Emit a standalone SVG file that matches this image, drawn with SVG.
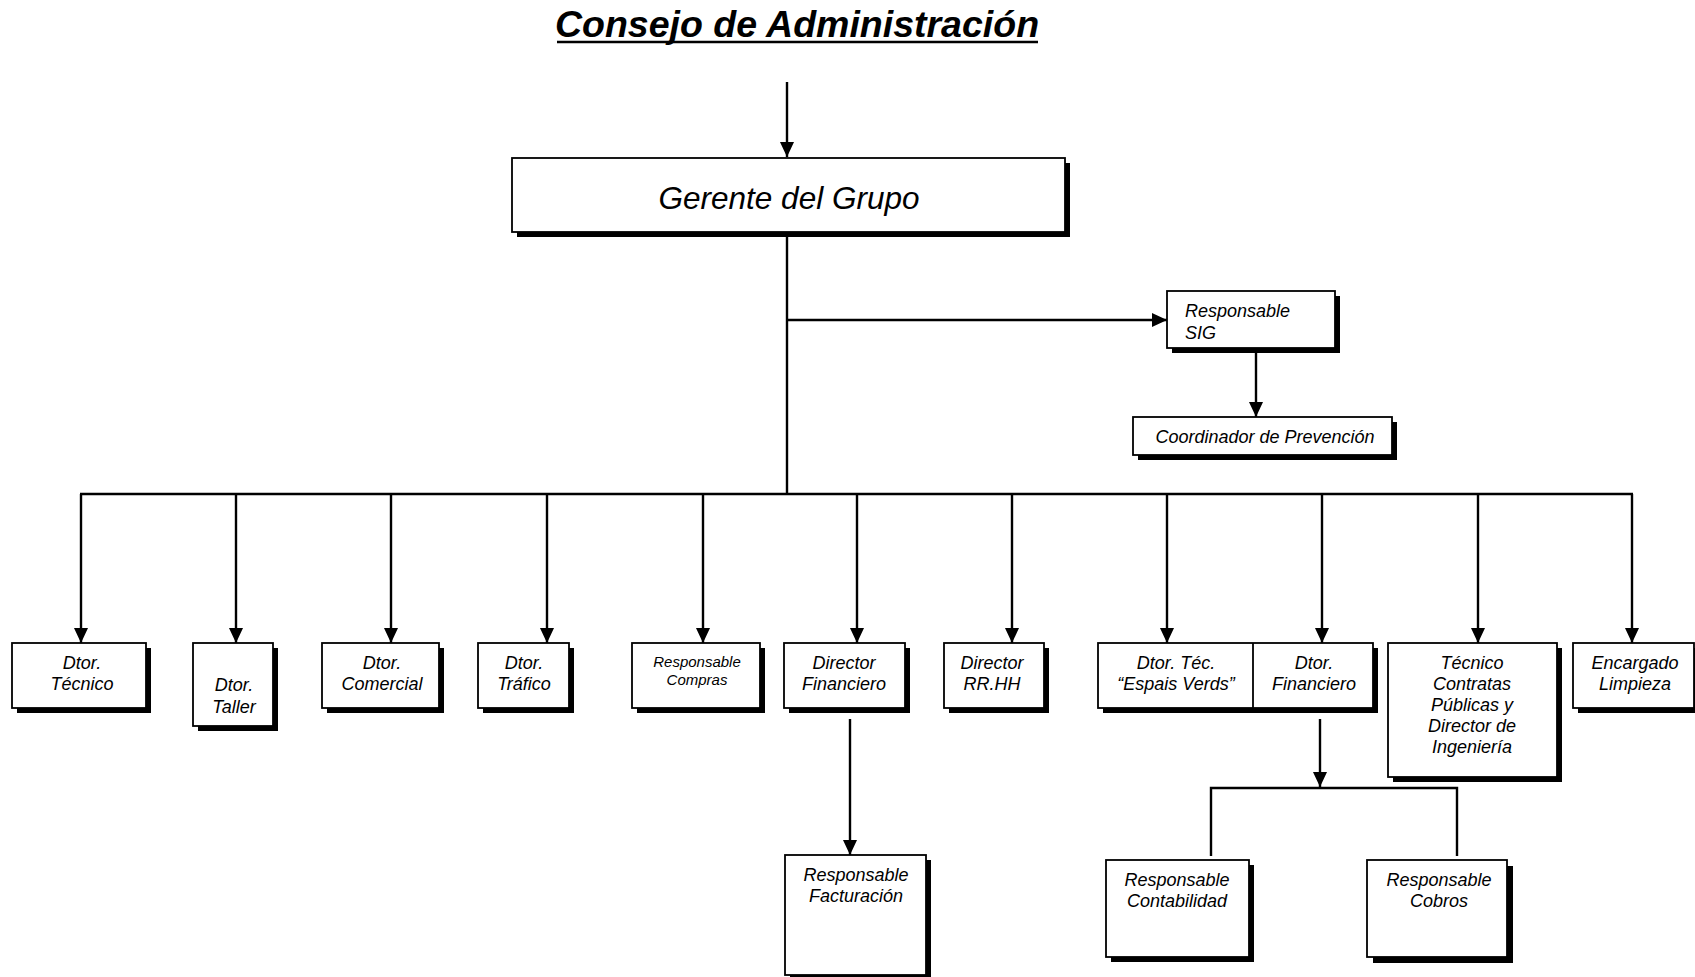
<svg xmlns="http://www.w3.org/2000/svg" width="1695" height="977" viewBox="0 0 1695 977">
<style>
.sh{fill:#000}
.bx{fill:#fff;stroke:#000;stroke-width:1.8}
.t{font-family:"Liberation Sans",Arial,sans-serif;font-style:italic;font-size:18px;fill:#000;text-anchor:middle}
.s{font-size:15px}
.c{fill:none;stroke:#000;stroke-width:2.4}
.title{font-family:"Liberation Sans",Arial,sans-serif;font-style:italic;font-weight:bold;font-size:37.5px;fill:#000;text-anchor:middle}
</style>
<defs>
<marker id="ah" markerUnits="userSpaceOnUse" markerWidth="14" markerHeight="14" refX="15" refY="7" orient="auto">
<path d="M0,0 L15,7 L0,14 z" fill="#000"/>
</marker>
</defs>
<rect width="1695" height="977" fill="#fff"/>
<g id="title">
<text class="title" x="797" y="37">Consejo de Administración</text>
<line x1="557" y1="42" x2="1038" y2="42" stroke="#000" stroke-width="2.5"/>
</g>
<g id="connectors">
<line class="c" x1="787" y1="82" x2="787" y2="157" marker-end="url(#ah)"/>
<line class="c" x1="787" y1="232" x2="787" y2="494"/>
<line class="c" x1="787" y1="320" x2="1167" y2="320" marker-end="url(#ah)"/>
<line class="c" x1="1256" y1="348" x2="1256" y2="417" marker-end="url(#ah)"/>
<line class="c" x1="80" y1="494" x2="1633" y2="494"/>
<line class="c" x1="81" y1="494" x2="81" y2="643" marker-end="url(#ah)"/>
<line class="c" x1="236" y1="494" x2="236" y2="643" marker-end="url(#ah)"/>
<line class="c" x1="391" y1="494" x2="391" y2="643" marker-end="url(#ah)"/>
<line class="c" x1="547" y1="494" x2="547" y2="643" marker-end="url(#ah)"/>
<line class="c" x1="703" y1="494" x2="703" y2="643" marker-end="url(#ah)"/>
<line class="c" x1="857" y1="494" x2="857" y2="643" marker-end="url(#ah)"/>
<line class="c" x1="1012" y1="494" x2="1012" y2="643" marker-end="url(#ah)"/>
<line class="c" x1="1167" y1="494" x2="1167" y2="643" marker-end="url(#ah)"/>
<line class="c" x1="1322" y1="494" x2="1322" y2="643" marker-end="url(#ah)"/>
<line class="c" x1="1478" y1="494" x2="1478" y2="643" marker-end="url(#ah)"/>
<line class="c" x1="1632" y1="494" x2="1632" y2="643" marker-end="url(#ah)"/>
<line class="c" x1="850" y1="719" x2="850" y2="855" marker-end="url(#ah)"/>
<line class="c" x1="1320" y1="719" x2="1320" y2="787" marker-end="url(#ah)"/>
<polyline class="c" points="1211,856 1211,788 1457,788 1457,856"/>
</g>
<g id="gerente">
<rect class="sh" x="517" y="163" width="553" height="74"/>
<rect class="bx" x="512" y="158" width="553" height="74"/>
<text class="t" x="789" y="209" style="font-size:31.5px">Gerente del Grupo</text>
</g>
<g id="sig">
<rect class="sh" x="1172" y="296" width="168" height="57"/>
<rect class="bx" x="1167" y="291" width="168" height="57"/>
<text class="t" x="1185" y="317" style="text-anchor:start">Responsable</text>
<text class="t" x="1185" y="339" style="text-anchor:start">SIG</text>
</g>
<g id="coordinador">
<rect class="sh" x="1138" y="422" width="259" height="38"/>
<rect class="bx" x="1133" y="417" width="259" height="38"/>
<text class="t" x="1265" y="443">Coordinador de Prevención</text>
</g>
<g id="dtor-tecnico">
<rect class="sh" x="17" y="648" width="134" height="65"/>
<rect class="bx" x="12" y="643" width="134" height="65"/>
<text class="t" x="82" y="669">Dtor.</text>
<text class="t" x="82" y="690">Técnico</text>
</g>
<g id="dtor-taller">
<rect class="sh" x="198" y="648" width="80" height="83"/>
<rect class="bx" x="193" y="643" width="80" height="83"/>
<text class="t" x="234" y="691">Dtor.</text>
<text class="t" x="234" y="713">Taller</text>
</g>
<g id="dtor-comercial">
<rect class="sh" x="327" y="648" width="117" height="65"/>
<rect class="bx" x="322" y="643" width="117" height="65"/>
<text class="t" x="382" y="669">Dtor.</text>
<text class="t" x="382" y="690">Comercial</text>
</g>
<g id="dtor-trafico">
<rect class="sh" x="483" y="648" width="91" height="65"/>
<rect class="bx" x="478" y="643" width="91" height="65"/>
<text class="t" x="524" y="669">Dtor.</text>
<text class="t" x="524" y="690">Tráfico</text>
</g>
<g id="resp-compras">
<rect class="sh" x="637" y="648" width="128" height="65"/>
<rect class="bx" x="632" y="643" width="128" height="65"/>
<text class="t s" x="697" y="667">Responsable</text>
<text class="t s" x="697" y="685">Compras</text>
</g>
<g id="director-financiero">
<rect class="sh" x="789" y="648" width="121" height="65"/>
<rect class="bx" x="784" y="643" width="121" height="65"/>
<text class="t" x="844" y="669">Director</text>
<text class="t" x="844" y="690">Financiero</text>
</g>
<g id="director-rrhh">
<rect class="sh" x="949" y="648" width="100" height="65"/>
<rect class="bx" x="944" y="643" width="100" height="65"/>
<text class="t" x="992" y="669">Director</text>
<text class="t" x="992" y="690">RR.HH</text>
</g>
<g id="espais-verds-financiero">
<rect class="sh" x="1103" y="648" width="275" height="65"/>
<rect class="bx" x="1098" y="643" width="275" height="65"/>
<line x1="1253" y1="643" x2="1253" y2="708" stroke="#000" stroke-width="1.8"/>
<text class="t" x="1176" y="669">Dtor. Téc.</text>
<text class="t" x="1176" y="690">“Espais Verds”</text>
<text class="t" x="1314" y="669">Dtor.</text>
<text class="t" x="1314" y="690">Financiero</text>
</g>
<g id="tecnico-contratas">
<rect class="sh" x="1393" y="648" width="169" height="134"/>
<rect class="bx" x="1388" y="643" width="169" height="134"/>
<text class="t" x="1472" y="669">Técnico</text>
<text class="t" x="1472" y="690">Contratas</text>
<text class="t" x="1472" y="711">Públicas y</text>
<text class="t" x="1472" y="732">Director de</text>
<text class="t" x="1472" y="753">Ingeniería</text>
</g>
<g id="encargado-limpieza">
<rect class="sh" x="1578" y="648" width="130" height="65"/>
<rect class="bx" x="1573" y="643" width="121" height="65"/>
<text class="t" x="1635" y="669">Encargado</text>
<text class="t" x="1635" y="690">Limpieza</text>
</g>
<g id="resp-facturacion">
<rect class="sh" x="790" y="860" width="141" height="120"/>
<rect class="bx" x="785" y="855" width="141" height="120"/>
<text class="t" x="856" y="881">Responsable</text>
<text class="t" x="856" y="902">Facturación</text>
</g>
<g id="resp-contabilidad">
<rect class="sh" x="1111" y="865" width="143" height="97"/>
<rect class="bx" x="1106" y="860" width="143" height="97"/>
<text class="t" x="1177" y="886">Responsable</text>
<text class="t" x="1177" y="907">Contabilidad</text>
</g>
<g id="resp-cobros">
<rect class="sh" x="1373" y="866" width="140" height="97"/>
<rect class="bx" x="1367" y="860" width="140" height="97"/>
<text class="t" x="1439" y="886">Responsable</text>
<text class="t" x="1439" y="907">Cobros</text>
</g>
</svg>
